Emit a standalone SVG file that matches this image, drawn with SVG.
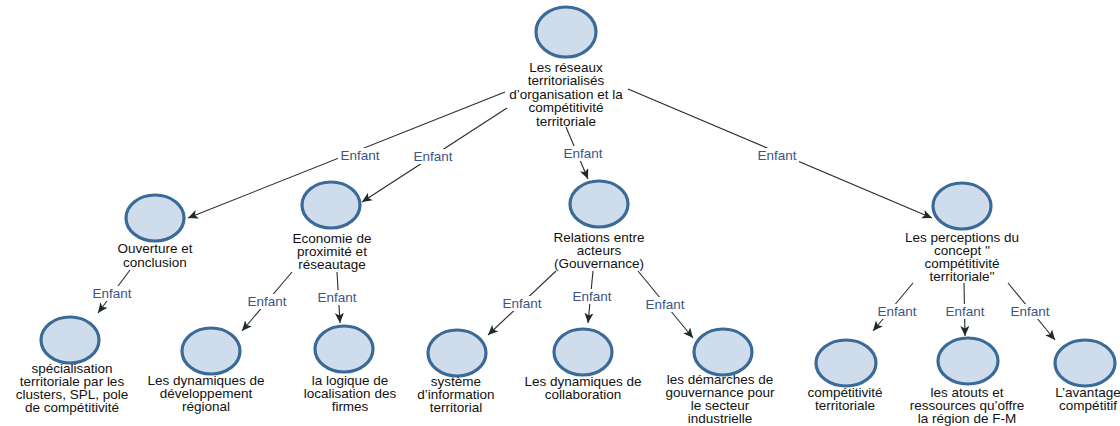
<svg xmlns="http://www.w3.org/2000/svg" width="1120" height="426" viewBox="0 0 1120 426">
<defs>
<marker id="arr" markerUnits="userSpaceOnUse" markerWidth="10" markerHeight="9" refX="10" refY="4.5" orient="auto">
<path d="M0,0 L10,4.5 L0,9 L2.5,4.5 z" fill="#1e2b2b"/>
</marker>
<style>
.n ellipse{fill:#cfdcec;stroke:#3a6a98;stroke-width:3.2}
.n text{font-family:"Liberation Sans",Arial,sans-serif;font-size:13.5px;fill:#111;text-anchor:middle}
#connectors line{stroke:#2a2a2a;stroke-width:1.1;marker-end:url(#arr)}
#connectors rect{fill:#fff}
#connectors text{font-family:"Liberation Sans",Arial,sans-serif;font-size:13.5px;fill:#3b5583;text-anchor:middle}
</style>
</defs>
<rect width="1120" height="426" fill="#fff"/>
<g id="connectors">
<line x1="505" y1="92" x2="188" y2="218"/>
<line x1="507" y1="108" x2="362" y2="202"/>
<line x1="566" y1="127" x2="588" y2="179"/>
<line x1="628" y1="89" x2="932" y2="218"/>
<line x1="130" y1="270" x2="98" y2="313"/>
<line x1="292" y1="272" x2="242" y2="331"/>
<line x1="337" y1="272" x2="340" y2="323"/>
<line x1="556" y1="271" x2="488" y2="335"/>
<line x1="593" y1="271" x2="588" y2="323"/>
<line x1="638" y1="271" x2="693" y2="338"/>
<line x1="913" y1="283" x2="873" y2="331"/>
<line x1="964" y1="283" x2="965" y2="336"/>
<line x1="1008" y1="283" x2="1055" y2="340"/>
<rect x="338" y="148" width="44" height="15"/>
<rect x="411" y="149" width="44" height="15"/>
<rect x="561" y="146" width="44" height="15"/>
<rect x="755" y="148" width="44" height="15"/>
<rect x="90" y="286" width="44" height="15"/>
<rect x="245" y="294" width="44" height="15"/>
<rect x="315" y="290" width="44" height="15"/>
<rect x="500" y="296" width="44" height="15"/>
<rect x="570" y="289" width="44" height="15"/>
<rect x="643" y="297" width="44" height="15"/>
<rect x="875" y="304" width="44" height="15"/>
<rect x="943" y="304" width="44" height="15"/>
<rect x="1008" y="304" width="44" height="15"/>
<text x="360" y="160">Enfant</text>
<text x="433" y="161">Enfant</text>
<text x="583" y="158">Enfant</text>
<text x="777" y="160">Enfant</text>
<text x="112" y="298">Enfant</text>
<text x="267" y="306">Enfant</text>
<text x="337" y="302">Enfant</text>
<text x="522" y="308">Enfant</text>
<text x="592" y="301">Enfant</text>
<text x="665" y="309">Enfant</text>
<text x="897" y="316">Enfant</text>
<text x="965" y="316">Enfant</text>
<text x="1030" y="316">Enfant</text>
</g>
<g id="root" class="n">
<ellipse cx="566" cy="32" rx="30" ry="25"/>
<text x="566" y="71.5">Les réseaux</text>
<text x="566" y="85">territorialisés</text>
<text x="566" y="98.5">d’organisation et la</text>
<text x="566" y="112">compétitivité</text>
<text x="566" y="125.5">territoriale</text>
</g>
<g id="ouverture" class="n">
<ellipse cx="155" cy="218" rx="29" ry="23"/>
<text x="155" y="252.5">Ouverture et</text>
<text x="155" y="266.5">conclusion</text>
</g>
<g id="economie" class="n">
<ellipse cx="331" cy="205" rx="29" ry="23"/>
<text x="332" y="242.5">Economie de</text>
<text x="332" y="255.5">proximité et</text>
<text x="332" y="269">réseautage</text>
</g>
<g id="relations" class="n">
<ellipse cx="599" cy="204" rx="29" ry="23"/>
<text x="599" y="241.5">Relations entre</text>
<text x="599" y="254.5">acteurs</text>
<text x="599" y="267.5">(Gouvernance)</text>
</g>
<g id="perceptions" class="n">
<ellipse cx="962" cy="206" rx="29" ry="23"/>
<text x="962" y="241.5">Les perceptions du</text>
<text x="962" y="254.5">concept ''</text>
<text x="962" y="267.5">compétitivité</text>
<text x="962" y="280.5">territoriale''</text>
</g>
<g id="specialisation" class="n">
<ellipse cx="70" cy="340" rx="29" ry="23"/>
<text x="72" y="373">spécialisation</text>
<text x="72" y="386">territoriale par les</text>
<text x="72" y="399">clusters, SPL, pole</text>
<text x="72" y="412">de compétitivité</text>
</g>
<g id="dyn-dev" class="n">
<ellipse cx="211" cy="351" rx="29" ry="23"/>
<text x="206" y="384.5">Les dynamiques de</text>
<text x="206" y="397.5">développement</text>
<text x="206" y="410.5">régional</text>
</g>
<g id="logique" class="n">
<ellipse cx="344" cy="349" rx="29" ry="23"/>
<text x="350" y="384.5">la logique de</text>
<text x="350" y="397.5">localisation des</text>
<text x="350" y="410.5">firmes</text>
</g>
<g id="systeme" class="n">
<ellipse cx="457" cy="353" rx="29" ry="23"/>
<text x="456" y="386">système</text>
<text x="456" y="399">d’information</text>
<text x="456" y="412">territorial</text>
</g>
<g id="collaboration" class="n">
<ellipse cx="583" cy="352" rx="29" ry="23"/>
<text x="583" y="386">Les dynamiques de</text>
<text x="583" y="399">collaboration</text>
</g>
<g id="demarches" class="n">
<ellipse cx="723" cy="352" rx="29" ry="23"/>
<text x="720" y="384">les démarches de</text>
<text x="720" y="397">gouvernance pour</text>
<text x="720" y="410">le secteur</text>
<text x="720" y="423">industrielle</text>
</g>
<g id="competitivite" class="n">
<ellipse cx="846" cy="363" rx="30" ry="23"/>
<text x="845" y="397">compétitivité</text>
<text x="845" y="410">territoriale</text>
</g>
<g id="atouts" class="n">
<ellipse cx="968" cy="361" rx="30" ry="23"/>
<text x="967" y="397">les atouts et</text>
<text x="967" y="410">ressources qu’offre</text>
<text x="967" y="423">la région de F-M</text>
</g>
<g id="avantage" class="n">
<ellipse cx="1085" cy="363" rx="30" ry="23"/>
<text x="1088" y="397">L’avantage</text>
<text x="1088" y="410">compétitif</text>
</g>
</svg>
